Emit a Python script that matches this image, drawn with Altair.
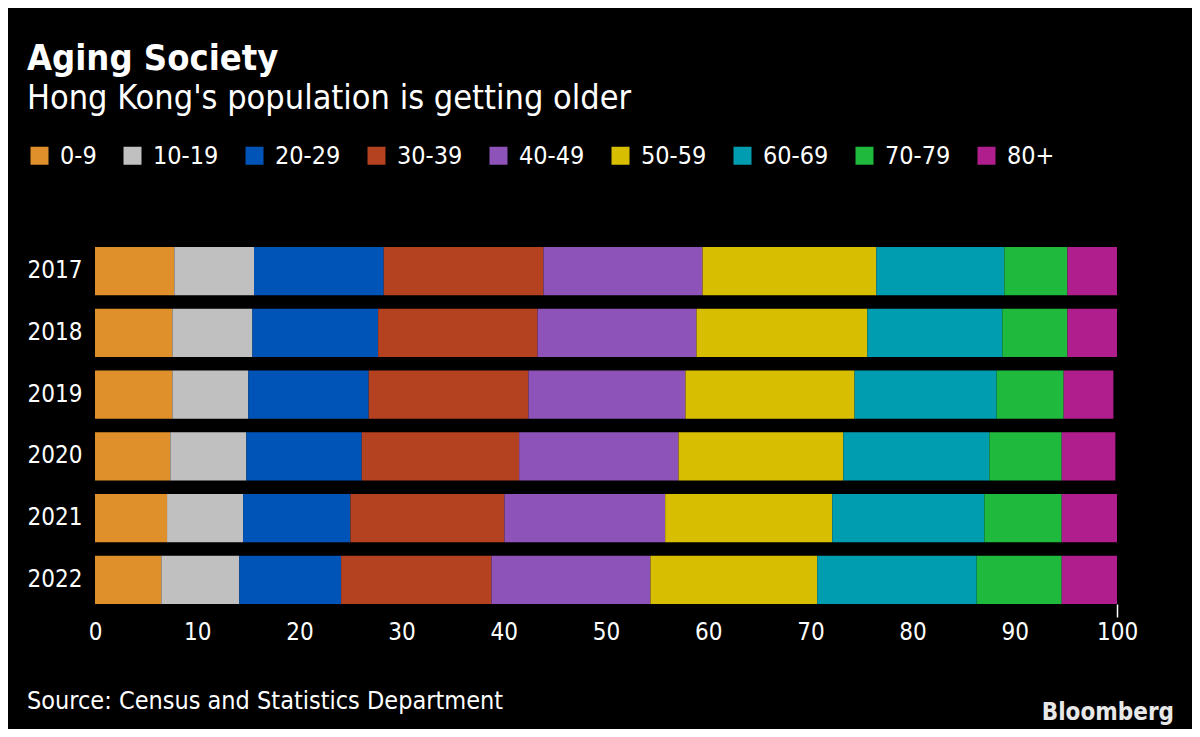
import altair as alt
import pandas as pd

years = ["2017", "2018", "2019", "2020", "2021", "2022"]
groups = ["0-9", "10-19", "20-29", "30-39", "40-49", "50-59", "60-69", "70-79", "80+"]
colors = ["#E0902A", "#C0C0C0", "#0054B8", "#B4411F", "#8E53B8",
          "#D8BE00", "#009CB0", "#1EB93D", "#AF1E8C"]

g0_9 = [7.76, 7.57, 7.57, 7.37, 7.05, 6.49]
g10_19 = [7.80, 7.83, 7.43, 7.44, 7.44, 7.63]
g20_29 = [12.69, 12.30, 11.78, 11.29, 10.50, 9.96]
g30_39 = [15.63, 15.60, 15.63, 15.40, 15.07, 14.71]
g40_49 = [15.57, 15.56, 15.37, 15.60, 15.73, 15.56]
g50_59 = [17.00, 16.71, 16.54, 16.12, 16.35, 16.32]
g60_69 = [12.53, 13.21, 13.90, 14.29, 14.88, 15.60]
g70_79 = [6.17, 6.37, 6.56, 7.08, 7.57, 8.32]
g80 = [4.85, 4.85, 4.87, 5.25, 5.41, 5.41]

series = [g0_9, g10_19, g20_29, g30_39, g40_49, g50_59, g60_69, g70_79, g80]

title_text = "Aging Society"
subtitle_text = "Hong Kong's population is getting older"
source_text = "Source: Census and Statistics Department"
brand_text = "Bloomberg"

FONT = "DejaVu Sans Condensed"

rows = []
for gi, (g, vals) in enumerate(zip(groups, series)):
    for y, v in zip(years, vals):
        rows.append({"year": y, "group": g, "order": gi, "value": v})
df = pd.DataFrame(rows)

W, H = 1022, 357

bars = alt.Chart(df).mark_bar().encode(
    x=alt.X("value:Q", stack="zero",
            scale=alt.Scale(domain=[0, 100], nice=False, zero=True),
            axis=alt.Axis(values=list(range(0, 101, 10)), title=None, domain=False,
                          grid=False, tickSize=13, tickWidth=1.5, labelFlush=False,
                          tickColor={"condition": {"test": "datum.value === 100", "value": "#ffffff"},
                                     "value": "transparent"},
                          labelPadding=3, labelFontSize=24, labelColor="#ffffff",
                          labelFont=FONT)),
    y=alt.Y("year:O", sort=years,
            scale=alt.Scale(paddingInner=0.217, paddingOuter=0),
            axis=alt.Axis(title=None, domain=False, ticks=False, labelPadding=13,
                          labelFontSize=24, labelColor="#ffffff", labelFont=FONT)),
    color=alt.Color("group:N", sort=groups,
                    scale=alt.Scale(domain=groups, range=colors),
                    legend=alt.Legend(orient="none", direction="horizontal", title=None,
                                      legendX=-68, legendY=-104, symbolType="square",
                                      symbolSize=324, symbolStrokeWidth=0, symbolOpacity=1,
                                      labelFontSize=25, labelColor="#ffffff", labelFont=FONT,
                                      labelOffset=8, columnPadding=23, padding=0,
                                      columns=9)),
    order=alt.Order("order:Q", sort="ascending"),
)

source = alt.Chart(pd.DataFrame({"t": [source_text]})).mark_text(
    align="left", baseline="alphabetic", fontSize=25, color="#ffffff", font=FONT
).encode(text="t:N", x=alt.value(-68), y=alt.value(462))

brand = alt.Chart(pd.DataFrame({"t": [brand_text]})).mark_text(
    align="right", baseline="alphabetic", fontSize=24, fontWeight="bold",
    color="#e8e8e8", font=FONT
).encode(text="t:N", x=alt.value(1079), y=alt.value(473))

chart = alt.layer(bars, source, brand).properties(
    width=W, height=H,
    title=alt.TitleParams(text=title_text, subtitle=subtitle_text, anchor="start",
                          font=FONT, fontSize=36, fontWeight="bold", color="#ffffff",
                          subtitleFont=FONT, subtitleFontSize=34, subtitleColor="#ffffff",
                          subtitlePadding=4, offset=26),
    background="#000000",
    padding={"left": 87, "top": 239, "right": 75, "bottom": 125},
    autosize=alt.AutoSizeParams(type="none"),
).configure_view(stroke=None)

chart.save("out.html", embed_options={"renderer": "svg", "actions": False})
